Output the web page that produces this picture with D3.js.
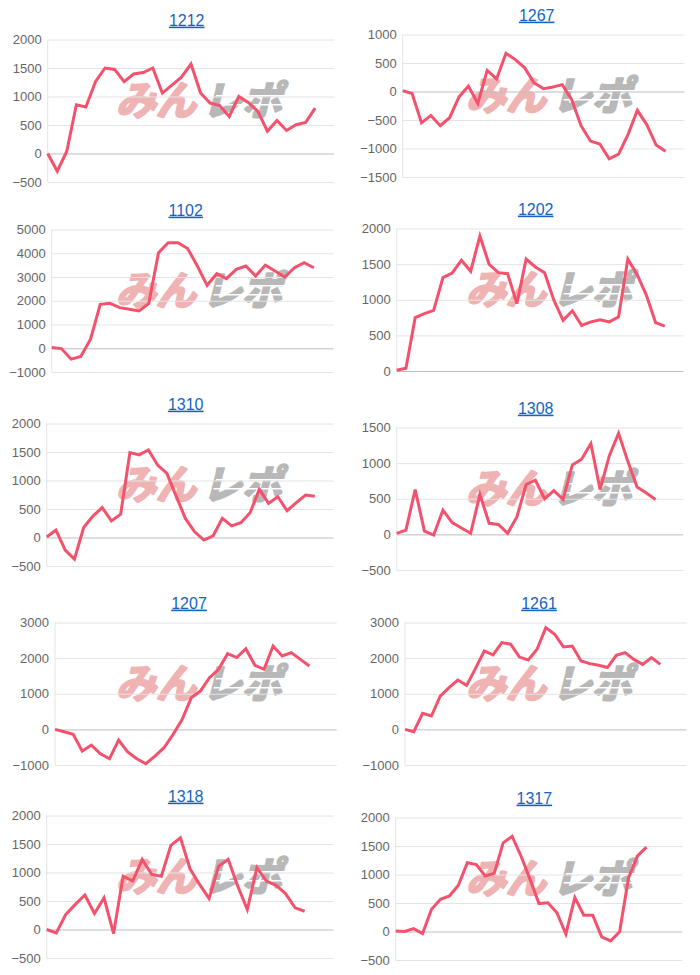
<!DOCTYPE html>
<html>
<head>
<meta charset="utf-8">
<script src="https://cdn.jsdelivr.net/npm/d3@7"></script>
<style>
  body { margin: 0; background: #fff; }
  svg { display: block; }
</style>
</head>
<body>
<svg id="chart" width="700" height="975"></svg>
<script>
// machine numbers, one small chart each
const machines = ["1212", "1267", "1102", "1202", "1310", "1308", "1207", "1261", "1318", "1317"];
// number of x categories on each chart
const dayCounts = [31, 31, 30, 32, 32, 32, 32, 33, 31, 33];

// y axis ticks
const yMin = [-500, -1500, -1000, 0, -500, -500, -1000, -1000, -500, -500];
const yMax = [2000, 1000, 5000, 2000, 2000, 1500, 3000, 3000, 2000, 2000];
const yStep = [500, 500, 1000, 500, 500, 500, 1000, 1000, 500, 500];

// series values
const s1212 = [0, -310, 40, 855, 815, 1260, 1500, 1475, 1260, 1395, 1420, 1500, 1060, 1200, 1340,
  1570, 1060, 885, 840, 650, 1000, 895, 740, 390, 580, 405, 505, 545, 795];
const s1267 = [15, -35, -550, -420, -600, -460, -95, 95, -210, 370, 220, 670, 560, 415, 150,
  50, 80, 120, -140, -600, -870, -920, -1180, -1100, -755, -330, -580, -940, -1050];
const s1102 = [30, -15, -460, -350, 380, 1850, 1890, 1710, 1640, 1570, 1890, 4020, 4440, 4440,
  4200, 3460, 2650, 3140, 2930, 3320, 3460, 3040, 3500, 3250, 3000, 3390, 3600, 3390];
const s1202 = [10, 40, 750, 805, 850, 1310, 1375, 1555, 1400, 1895, 1495, 1380, 1365, 945, 1570,
  1460, 1380, 995, 710, 845, 640, 690, 720, 690, 760, 1570, 1355, 1065, 680, 630];
const s1310 = [10, 130, -220, -380, 175, 375, 525, 290, 410, 1490, 1450, 1535, 1270, 1125, 725,
  335, 100, -45, 30, 335, 205, 260, 435, 845, 600, 715, 470, 610, 745, 725];
const s1308 = [15, 60, 630, 45, -10, 340, 165, 90, 15, 560, 155, 140, 15, 245, 700,
  760, 500, 615, 490, 975, 1055, 1275, 630, 1105, 1420, 1025, 665, 580, 490];
const s1207 = [0, -65, -140, -610, -440, -685, -825, -300, -630, -825, -965, -750, -515, -140, 280,
  890, 1075, 1450, 1685, 2125, 2015, 2265, 1800, 1685, 2340, 2060, 2155, 1965, 1780];
const s1261 = [0, -65, 450, 375, 935, 1170, 1385, 1235, 1705, 2200, 2090, 2435, 2390, 2030, 1950,
  2250, 2855, 2670, 2315, 2340, 1920, 1845, 1800, 1735, 2080, 2155, 1965, 1825, 2015, 1825];
const s1318 = [0, -60, 265, 440, 605, 280, 555, -70, 935, 850, 1230, 965, 935, 1475, 1610,
  1065, 790, 545, 1110, 1230, 760, 350, 1085, 850, 775, 630, 380, 320];
const s1317 = [10, 0, 50, -35, 390, 565, 625, 810, 1205, 1175, 975, 1020, 1555, 1670, 1320,
  915, 490, 505, 330, -45, 595, 285, 285, -95, -165, -5, 945, 1325, 1480];
const series = [s1212, s1267, s1102, s1202, s1310, s1308, s1207, s1261, s1318, s1317];

// layout (px, relative to each column)
const titleY = [20, 15, 210, 209, 404, 408, 603, 603, 796, 798];
const titleX = [186.7, 186.7, 185.7, 185.7, 185.7, 185.7, 189, 189, 185.7, 184.3];
const plotLeft = [47.7, 52.7, 51.7, 46.7, 46.7, 46.7, 55, 55, 46.7, 45.7];
const plotRight = [334.3, 334.3, 333.3, 333.3, 333.3, 333.3, 336.7, 336.7, 333.3, 332.3];
const PLOT_H = 142.5;
const LINE_COLOR = "#f4516c";

const svg = d3.select("#chart");
svg.append("rect").attr("width", 700).attr("height", 975).attr("fill", "#fff");

function drawWatermark(g, cx, cy) {
  const wm = g.append("g").attr("transform", `translate(${cx},${cy}) skewX(-14)`);
  const font = "bold 40px 'Noto Sans CJK JP'";
  wm.append("text")
    .attr("x", -3).attr("y", 14)
    .attr("text-anchor", "end")
    .style("font", font)
    .attr("fill", "#efb3b3")
    .attr("stroke", "#efb3b3")
    .attr("stroke-width", 2.5)
    .attr("stroke-linejoin", "round")
    .text("みん");
  wm.append("text")
    .attr("x", 3).attr("y", 14)
    .attr("text-anchor", "start")
    .style("font", font)
    .attr("fill", "#b8b8b8")
    .attr("stroke", "#b8b8b8")
    .attr("stroke-width", 2.5)
    .attr("stroke-linejoin", "round")
    .text("レポ");
  // speed lines cut through the grey part
  [-6, 3].forEach(dy => {
    wm.append("rect")
      .attr("x", 12).attr("y", dy)
      .attr("width", 85).attr("height", 1.5)
      .attr("fill", "#fff");
  });
}

machines.forEach((name, i) => {
  const col = (i % 2) * 350;
  const top = titleY[i] + 19.5;
  const left = col + plotLeft[i];
  const right = col + plotRight[i];

  const x = d3.scaleLinear()
    .domain([0, dayCounts[i] - 1])
    .range([left, right]);
  const y = d3.scaleLinear()
    .domain([yMin[i], yMax[i]])
    .range([top + PLOT_H, top]);

  const g = svg.append("g");

  drawWatermark(g, col + 202.5, titleY[i] + 81);

  // Grid and y labels.
  const ticks = d3.range(yMin[i], yMax[i] + 1, yStep[i]);
  const axis = d3.axisLeft(y)
    .tickValues(ticks)
    .tickSize(-(right - left))
    .tickPadding(6)
    .tickFormat(d3.format("d"));
  const ag = g.append("g")
    .attr("transform", `translate(${left},0)`)
    .call(axis);
  ag.select(".domain").remove();
  ag.selectAll(".tick line")
    .attr("stroke", d => d === 0 ? "#bdbdbd" : "#e4e4e4")
    .attr("stroke-width", 1);
  ag.selectAll(".tick text")
    .attr("fill", "#666")
    .style("font", "13px 'Liberation Sans', Arial, sans-serif");

  // y axis line
  g.append("line")
    .attr("x1", left).attr("x2", left)
    .attr("y1", top).attr("y2", top + PLOT_H)
    .attr("stroke", "#e4e4e4");

  // Series line.
  const line = d3.line()
    .x((d, j) => x(j))
    .y(d => y(d));
  g.append("path")
    .datum(series[i])
    .attr("d", line)
    .attr("fill", "none")
    .attr("stroke", LINE_COLOR)
    .attr("stroke-width", 3)
    .attr("stroke-linejoin", "miter");

  // Title.
  g.append("text")
    .attr("x", col + titleX[i])
    .attr("y", titleY[i])
    .attr("dy", "0.35em")
    .attr("text-anchor", "middle")
    .attr("fill", "#1565c0")
    .style("font", "16px 'Liberation Sans', Arial, sans-serif")
    .style("text-decoration", "underline")
    .text(name);
});
</script>
</body>
</html>
